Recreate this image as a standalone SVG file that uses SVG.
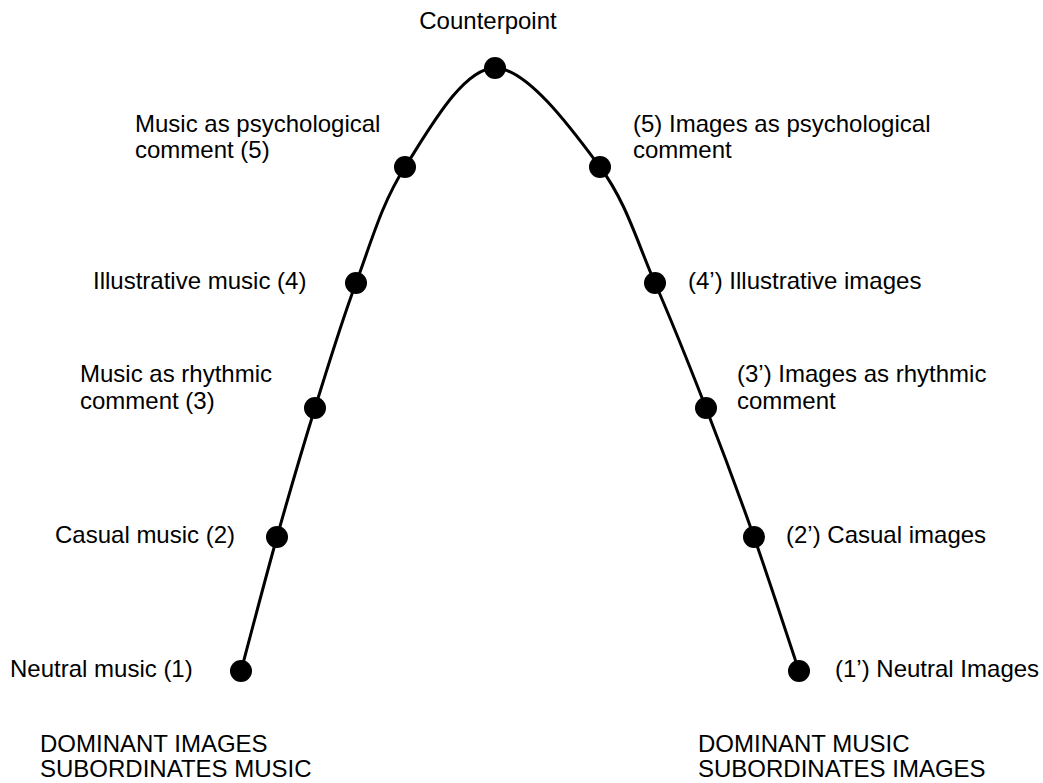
<svg xmlns="http://www.w3.org/2000/svg" width="1043" height="783" viewBox="0 0 1043 783">
<style>
text { font-family: "Liberation Sans", Arial, Helvetica, sans-serif; font-size: 24px; fill: #000; }
.dot { fill: #000; }
.curve { fill: none; stroke: #000; stroke-width: 3; }
.end { text-anchor: end; }
.mid { text-anchor: middle; }
</style>
<rect width="1043" height="783" fill="#fff"/>
<g id="connectors">
<path class="curve" d="M241,671 C247,648.7 264.67,580.83 277,537 C289.33,493.17 301.83,450.33 315,408 C328.17,365.67 341,323.17 356,283 C371,242.83 381.83,202.83 405,167 C428.17,131.17 462.5,68 495,68 C527.5,68 573.33,131.17 600,167 C626.67,202.83 637.33,242.83 655,283 C672.67,323.17 689.5,365.67 706,408 C722.5,450.33 738.5,493.17 754,537 C769.5,580.83 791.5,648.67 799,671"/>
</g>
<g id="counterpoint">
<circle class="dot" cx="495" cy="68" r="11"/>
<text x="488" y="29" class="mid">Counterpoint</text>
</g>
<g id="music-psych">
<circle class="dot" cx="405" cy="167" r="11"/>
<text x="135" y="132">Music as psychological</text>
<text x="135" y="158">comment (5)</text>
</g>
<g id="music-illustrative">
<circle class="dot" cx="356" cy="283" r="11"/>
<text x="93" y="289">Illustrative music (4)</text>
</g>
<g id="music-rhythmic">
<circle class="dot" cx="315" cy="408" r="11"/>
<text x="80" y="382">Music as rhythmic</text>
<text x="80" y="409">comment (3)</text>
</g>
<g id="music-casual">
<circle class="dot" cx="277" cy="537" r="11"/>
<text x="55" y="543">Casual music (2)</text>
</g>
<g id="music-neutral">
<circle class="dot" cx="241" cy="671" r="11"/>
<text x="10" y="677">Neutral music (1)</text>
</g>
<g id="images-psych">
<circle class="dot" cx="600" cy="167" r="11"/>
<text x="633" y="132">(5) Images as psychological</text>
<text x="633" y="158">comment</text>
</g>
<g id="images-illustrative">
<circle class="dot" cx="655" cy="283" r="11"/>
<text x="688" y="289">(4’) Illustrative images</text>
</g>
<g id="images-rhythmic">
<circle class="dot" cx="706" cy="408" r="11"/>
<text x="737" y="382">(3’) Images as rhythmic</text>
<text x="737" y="409">comment</text>
</g>
<g id="images-casual">
<circle class="dot" cx="754" cy="537" r="11"/>
<text x="786" y="543">(2’) Casual images</text>
</g>
<g id="images-neutral">
<circle class="dot" cx="799" cy="671" r="11"/>
<text x="835" y="677">(1’) Neutral Images</text>
</g>
<g id="caption-left">
<text x="40" y="752">DOMINANT IMAGES</text>
<text x="40" y="777">SUBORDINATES MUSIC</text>
</g>
<g id="caption-right">
<text x="698" y="752">DOMINANT MUSIC</text>
<text x="698" y="777">SUBORDINATES IMAGES</text>
</g>
</svg>
